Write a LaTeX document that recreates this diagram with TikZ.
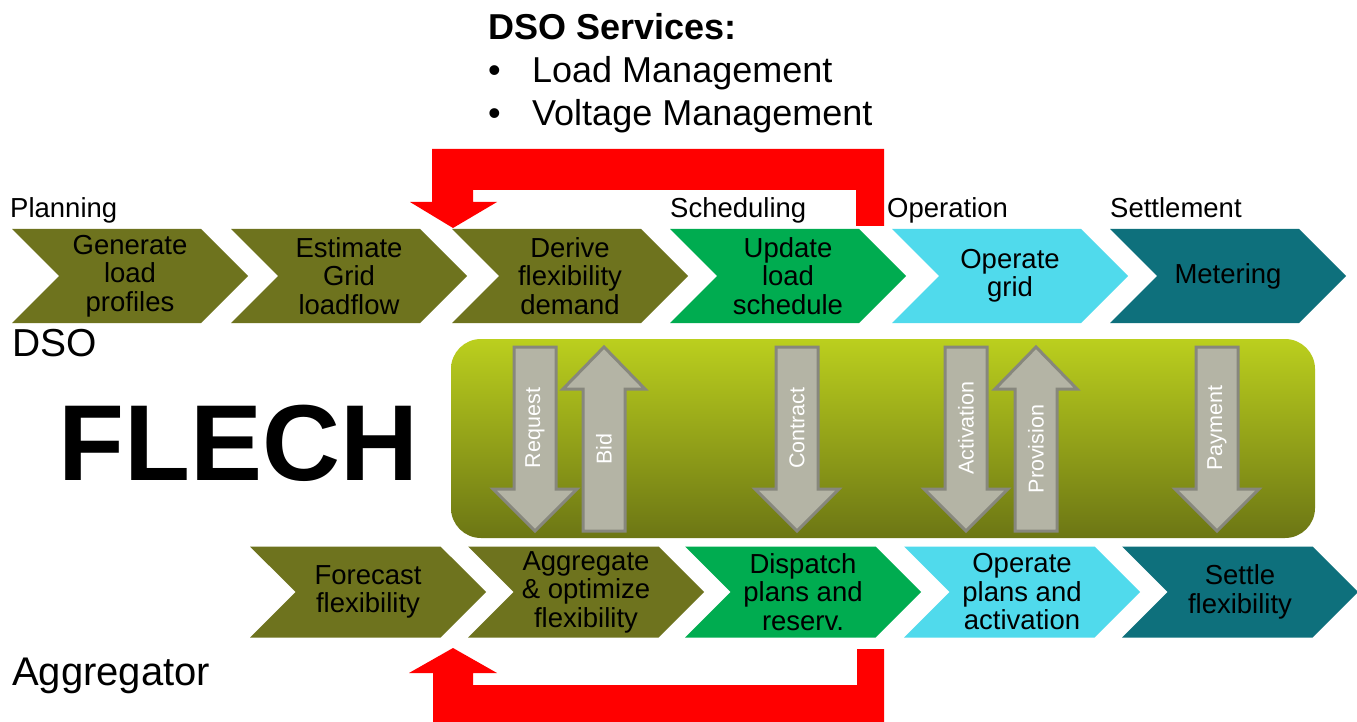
\documentclass[tikz,border=0pt]{standalone}
\usepackage{fontspec}
\setmainfont{Liberation Sans}
\usetikzlibrary{positioning}
\usetikzlibrary{shapes.symbols}

\definecolor{stepolive}{RGB}{110,115,30}
\definecolor{stepgreen}{RGB}{0,172,80}
\definecolor{stepcyan}{RGB}{80,218,236}
\definecolor{stepteal}{RGB}{14,112,124}
\definecolor{flechtop}{RGB}{187,207,30}
\definecolor{flechbot}{RGB}{108,118,20}
\definecolor{msgfill}{RGB}{180,180,165}
\definecolor{msgedge}{RGB}{135,135,125}

\begin{document}
\begin{tikzpicture}[x=1pt,y=-1pt,
	stepbox/.style={signal,signal to=east,signal from=west,signal pointer angle=90,
		minimum width=236pt,inner sep=0pt,outer sep=0pt,align=center,
		font=\fontsize{27.5}{28.5}\selectfont},
	toprow/.style={stepbox,minimum height=94pt},
	botrow/.style={stepbox,minimum height=91pt},
	phase/.style={anchor=base west,inner sep=0pt,font=\fontsize{27.5}{30}\selectfont},
	actor/.style={anchor=base west,inner sep=0pt,font=\fontsize{40}{42}\selectfont},
	msglabel/.style={rotate=90,text=white,inner sep=0pt,font=\fontsize{21.5}{22}\selectfont},
	msgarrow/.style={fill=msgfill,draw=msgedge,line width=3pt},
	]
	\fill[white] (0,0) rectangle (1357,722);
	\useasboundingbox (0,0) rectangle (1357,722);

	%% DSO services
	\node[anchor=base west,inner sep=0pt,align=left,font=\fontsize{36}{43}\selectfont] (srv) at (488,126)
		{{\bfseries DSO Services:}\\\makebox[44pt][l]{•}Load Management\\\makebox[44pt][l]{•}Voltage Management};

	%% phases
	\node[phase] (p1) at (10,218) {Planning};
	\node[phase] (p2) at (670,218) {Scheduling};
	\node[phase] (p3) at (887,218) {Operation};
	\node[phase] (p4) at (1110,218) {Settlement};

	%% DSO row
	\node[toprow,fill=stepolive] (d1) at (130,276) {Generate\\load\\profiles};
	\node[toprow,fill=stepolive] (d2) at (349,276) {Estimate\\Grid\\loadflow};
	\node[toprow,fill=stepolive] (d3) at (570,276) {Derive\\flexibility\\demand};
	\node[toprow,fill=stepgreen] (d4) at (788,276) {Update\\load\\schedule};
	\node[toprow,fill=stepcyan] (d5) at (1010,276) {Operate\\grid};
	\node[toprow,fill=stepteal] (d6) at (1228,276) {Metering};

	%% actors
	\node[actor,font=\fontsize{39}{42}\selectfont] (dso) at (12,356) {DSO};
	\node[actor] (agg) at (12,685) {Aggregator};
	\node[anchor=base west,inner sep=0pt,font=\fontsize{108}{110}\selectfont\bfseries] (flech) at (58,480) {FLECH};

	%% market box
	\shade[top color=flechtop,bottom color=flechbot,rounded corners=30pt] (451,339) rectangle (1315,538);

	% messages down
	\foreach \x/\name/\txt in {535/req/Request,797/con/Contract,966/act/Activation,1217/pay/Payment}{
		\filldraw[msgarrow] (\x-21,347) -- (\x+21,347) -- (\x+21,489) -- (\x+42,489) -- (\x,531)
			-- (\x-42,489) -- (\x-21,489) -- cycle;
		\node[msglabel] (\name) at (\x,428) {\txt};
	}
	% messages up
	\foreach \x/\name/\txt in {604/bid/Bid,1036/prov/Provision}{
		\filldraw[msgarrow] (\x-21,531) -- (\x+21,531) -- (\x+21,389) -- (\x+41,389) -- (\x,347)
			-- (\x-41,389) -- (\x-21,389) -- cycle;
		\node[msglabel] (\name) at (\x,449) {\txt};
	}

	%% Aggregator row
	\node[botrow,fill=stepolive] (g1) at (368,592) {Forecast\\flexibility};
	\node[botrow,fill=stepolive] (g2) at (586,592) {Aggregate\\\& optimize\\flexibility};
	\node[botrow,fill=stepgreen] (g3) at (803,592) {Dispatch\\plans and\\reserv.};
	\node[botrow,fill=stepcyan] (g4) at (1022,592) {Operate\\plans and\\activation};
	\node[botrow,fill=stepteal] (g5) at (1240,592) {Settle\\flexibility};

	%% feedback loops
	\fill[red] (884,226) -- (884,149) -- (432,149) -- (432,202) -- (410,202) -- (453,228)
		-- (497,202) -- (473,202) -- (473,190) -- (856,190) -- (856,226) -- cycle;
	\fill[red] (884,649) -- (884,722) -- (433,722) -- (433,673) -- (409,673) -- (453,648)
		-- (497,673) -- (473,673) -- (473,685) -- (857,685) -- (857,649) -- cycle;
\end{tikzpicture}
\end{document}
